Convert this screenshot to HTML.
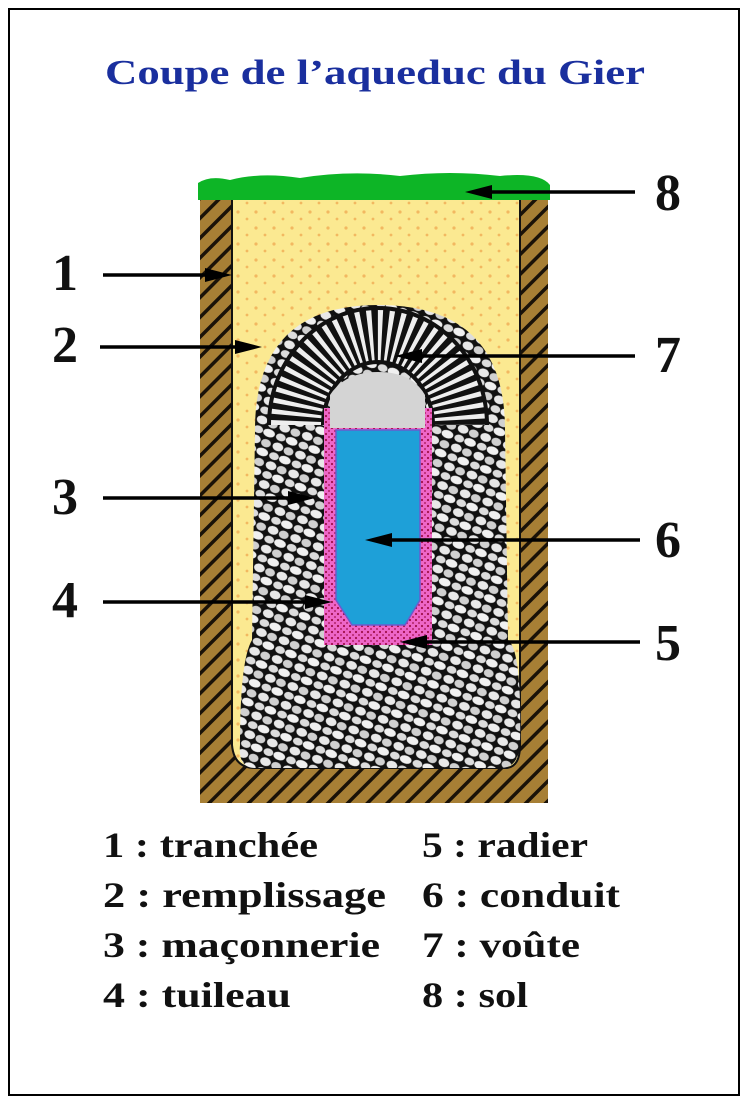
<!DOCTYPE html>
<html><head><meta charset="utf-8"><style>
html,body{margin:0;padding:0;background:#fff;}
svg{display:block;}
text{font-family:"Liberation Serif",serif;font-weight:bold;}
</style></head><body>
<svg width="748" height="1104" viewBox="0 0 748 1104" xmlns="http://www.w3.org/2000/svg">
<defs>
<pattern id="hatch" width="14" height="14" patternUnits="userSpaceOnUse" patternTransform="rotate(45)">
<rect width="14" height="14" fill="#a77f35"/>
<rect x="0" y="0" width="3.5" height="14" fill="#1a1208"/>
</pattern>
<pattern id="stone" width="24" height="20" patternUnits="userSpaceOnUse" patternTransform="rotate(20)">
<rect width="24" height="20" fill="#111"/>
<ellipse cx="6" cy="5" rx="5.5" ry="4.2" fill="#e8e8e8"/>
<ellipse cx="17.5" cy="5.5" rx="5" ry="4" fill="#d0d0d0"/>
<ellipse cx="5.5" cy="15" rx="5" ry="3.8" fill="#dcdcdc"/>
<ellipse cx="17" cy="15" rx="6" ry="4" fill="#f0f0f0"/>
</pattern>
<pattern id="pink" width="6" height="6" patternUnits="userSpaceOnUse">
<rect width="6" height="6" fill="#ee66c8"/>
<circle cx="2" cy="2" r="1.1" fill="#a0104a"/>
<circle cx="5" cy="5" r="0.9" fill="#a0104a"/>
</pattern>
<pattern id="speck" width="18" height="16" patternUnits="userSpaceOnUse">
<rect width="18" height="16" fill="#fbe991"/>
<circle cx="4" cy="4" r="1.6" fill="#f2b860"/>
<circle cx="13" cy="11" r="1.4" fill="#f2b860"/>
</pattern>
</defs>
<rect x="9" y="9" width="730" height="1086" fill="#fff" stroke="#000" stroke-width="2"/>
<text x="375" y="84" font-size="35" fill="#1a2f9e" text-anchor="middle" textLength="540" lengthAdjust="spacingAndGlyphs">Coupe de l’aqueduc du Gier</text>

<!-- trench -->
<rect x="200" y="198" width="348" height="605" fill="url(#hatch)"/>
<path d="M232 198 L232 745 Q234 768 255 768 L505 768 Q520 768 520 745 L520 198 Z" fill="url(#speck)" stroke="#111" stroke-width="2"/>
<!-- grass -->
<path d="M198 200 L198 183 Q210 175 230 180 Q260 172 300 178 Q350 170 400 176 Q450 170 500 176 Q540 172 550 185 L550 200 Z" fill="#0db526"/>

<!-- masonry -->
<path d="M255 430 Q255 305 378 305 Q505 305 505 430 L508 640 Q522 650 520 745 Q518 768 500 768 L255 768 Q238 768 240 745 Q240 660 252 640 Z" fill="url(#stone)"/>
<!-- vault: radial rays -->
<path d="M296 425 A82 90 0 0 1 460 425" fill="none" stroke="#111" stroke-width="58"/>
<path d="M296 425 A82 90 0 0 1 460 425" fill="none" stroke="#eee" stroke-width="50" stroke-dasharray="4 5"/>
<!-- tuileau -->
<path d="M324 408 L432 408 L432 645 L324 645 Z" fill="url(#pink)"/>
<!-- cap -->
<path d="M330 428 L330 395 Q345 372 378 372 Q412 372 425 395 L425 428 Z" fill="#d4d4d4"/>
<!-- water -->
<path d="M336 430 L420 430 L420 600 L405 625 L352 625 L336 600 Z" fill="#1ea0d8" stroke="#6a5acd" stroke-width="1.5"/>

<!-- arrows -->
<g stroke="#000" stroke-width="3.5">
<line x1="103" y1="275" x2="215" y2="275"/>
<line x1="100" y1="347" x2="245" y2="347"/>
<line x1="103" y1="498" x2="298" y2="498"/>
<line x1="103" y1="602" x2="315" y2="602"/>
<line x1="635" y1="192" x2="485" y2="192"/>
<line x1="635" y1="356" x2="415" y2="356"/>
<line x1="640" y1="540" x2="385" y2="540"/>
<line x1="640" y1="642" x2="420" y2="642"/>
</g>
<g fill="#000">
<polygon points="232,275 205,268 205,282"/>
<polygon points="262,347 235,340 235,354"/>
<polygon points="315,498 288,491 288,505"/>
<polygon points="332,602 305,595 305,609"/>
<polygon points="465,192 492,185 492,199"/>
<polygon points="395,356 422,349 422,363"/>
<polygon points="365,540 392,533 392,547"/>
<polygon points="400,642 427,635 427,649"/>
</g>
<g font-size="52" fill="#111">
<text x="52" y="290">1</text>
<text x="52" y="362">2</text>
<text x="52" y="514">3</text>
<text x="52" y="617">4</text>
<text x="655" y="660">5</text>
<text x="655" y="557">6</text>
<text x="655" y="372">7</text>
<text x="655" y="210">8</text>
</g>
<g font-size="36" fill="#111">
<text x="103" y="857" textLength="215" lengthAdjust="spacingAndGlyphs">1 : tranchée</text>
<text x="103" y="907" textLength="283" lengthAdjust="spacingAndGlyphs">2 : remplissage</text>
<text x="103" y="957" textLength="277" lengthAdjust="spacingAndGlyphs">3 : maçonnerie</text>
<text x="103" y="1007" textLength="188" lengthAdjust="spacingAndGlyphs">4 : tuileau</text>
<text x="422" y="857" textLength="166" lengthAdjust="spacingAndGlyphs">5 : radier</text>
<text x="422" y="907" textLength="198" lengthAdjust="spacingAndGlyphs">6 : conduit</text>
<text x="422" y="957" textLength="158" lengthAdjust="spacingAndGlyphs">7 : voûte</text>
<text x="422" y="1007" textLength="106" lengthAdjust="spacingAndGlyphs">8 : sol</text>
</g>
</svg>
</body></html>
